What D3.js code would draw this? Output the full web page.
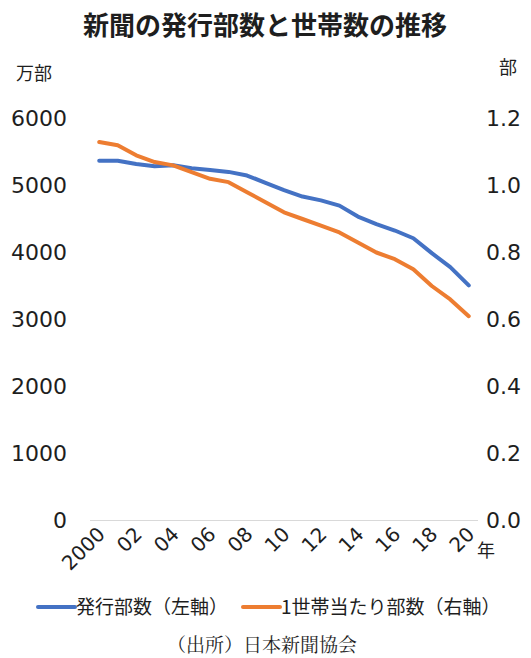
<!DOCTYPE html>
<html lang="ja">
<head>
<meta charset="utf-8">
<script src="https://cdn.jsdelivr.net/npm/d3@7"></script>
<style>
  html, body { margin: 0; padding: 0; background: #fff; }
  svg { display: block; }
  .num { font-family: "DejaVu Sans", "Noto Sans", sans-serif; fill: #1e1e1e; }
  .jp  { font-family: "Noto Sans CJK JP", sans-serif; fill: #1e1e1e; }
</style>
</head>
<body>
<svg id="chart" width="531" height="658"></svg>
<script>
// 年（2000〜2020）
const years = d3.range(2000, 2021);
// x軸ラベル（2年おき）
const yearLabels = ["2000", "02", "04", "06", "08", "10", "12", "14", "16", "18", "20"];
// 発行部数（万部）
const circulation = [5371, 5368, 5320, 5287, 5302, 5257, 5231, 5203, 5149, 5040, 4932,
                     4835, 4778, 4700, 4536, 4425, 4328, 4213, 3990, 3781, 3509];
// 1世帯当たり部数（部）
const perHousehold = [1.13, 1.12, 1.09, 1.07, 1.06, 1.04, 1.02, 1.01, 0.98, 0.95, 0.92,
                      0.90, 0.88, 0.86, 0.83, 0.80, 0.78, 0.75, 0.70, 0.66, 0.61];
const leftTicks = [0, 1000, 2000, 3000, 4000, 5000, 6000];
const rightTicks = [0, 0.2, 0.4, 0.6, 0.8, 1.0, 1.2];

const svg = d3.select("#chart");
const blue = "#4472C4", orange = "#ED7D31";

const x = d3.scalePoint().domain(years).range([90, 478]).padding(0.5);
const yL = d3.scaleLinear().domain([0, 6000]).range([520.5, 118.5]);
const yR = d3.scaleLinear().domain([0, 1.2]).range([520.5, 118.5]);

// タイトル
svg.append("text").attr("class", "jp")
  .attr("x", 265).attr("y", 35).attr("text-anchor", "middle")
  .attr("font-size", 26).attr("font-weight", 700)
  .text("新聞の発行部数と世帯数の推移");

// 軸の単位
svg.append("text").attr("class", "jp").attr("x", 16).attr("y", 80)
  .attr("font-size", 18).text("万部");
svg.append("text").attr("class", "jp").attr("x", 499).attr("y", 74)
  .attr("font-size", 18).text("部");

// 左軸
const axL = svg.append("g").attr("transform", "translate(67,0)")
  .call(d3.axisLeft(yL).tickValues(leftTicks).tickSize(0).tickPadding(0).tickFormat(d3.format("d")));
axL.select(".domain").remove();
axL.selectAll("text").attr("class", "num").attr("font-size", 22).attr("font-family", null).attr("fill", null);

// 右軸
const axR = svg.append("g").attr("transform", "translate(486,0)")
  .call(d3.axisRight(yR).tickValues(rightTicks).tickSize(0).tickPadding(0).tickFormat(d3.format(".1f")));
axR.select(".domain").remove();
axR.selectAll("text").attr("class", "num").attr("font-size", 22).attr("font-family", null).attr("fill", null);

// 基線
svg.append("line")
  .attr("x1", 90).attr("x2", 478).attr("y1", yL(0)).attr("y2", yL(0))
  .attr("stroke", "#d9d9d9").attr("stroke-width", 1.2);

// x軸ラベル
const labelYears = years.filter((d, i) => i % 2 === 0);
svg.append("g").selectAll("text").data(labelYears).join("text")
  .attr("class", "num").attr("font-size", 20).attr("text-anchor", "end")
  .attr("transform", (d, i) => `translate(${x(d) + 7},${yL(0) + 15}) rotate(-45)`)
  .text((d, i) => yearLabels[i]);
svg.append("text").attr("class", "jp").attr("x", 477).attr("y", 557)
  .attr("font-size", 18).text("年");

// 折れ線
const lineL = d3.line().x((d, i) => x(years[i])).y(d => yL(d));
const lineR = d3.line().x((d, i) => x(years[i])).y(d => yR(d));
svg.append("path").datum(circulation).attr("d", lineL)
  .attr("fill", "none").attr("stroke", blue).attr("stroke-width", 4)
  .attr("stroke-linejoin", "round").attr("stroke-linecap", "round");
svg.append("path").datum(perHousehold).attr("d", lineR)
  .attr("fill", "none").attr("stroke", orange).attr("stroke-width", 4)
  .attr("stroke-linejoin", "round").attr("stroke-linecap", "round");

// 凡例
const legend = [
  { label: "発行部数（左軸）", color: blue, x: 38 },
  { label: "1世帯当たり部数（右軸）", color: orange, x: 243 }
];
const lg = svg.append("g").selectAll("g").data(legend).join("g")
  .attr("transform", d => `translate(${d.x},607)`);
lg.append("line").attr("x1", 0).attr("x2", 37).attr("y1", 0).attr("y2", 0)
  .attr("stroke", d => d.color).attr("stroke-width", 4).attr("stroke-linecap", "round");
lg.append("text").attr("class", "jp").attr("x", 38).attr("y", 7)
  .attr("font-size", 19).text(d => d.label);

// 出所
svg.append("text")
  .attr("x", 262).attr("y", 652).attr("text-anchor", "middle")
  .attr("font-size", 19).attr("fill", "#1e1e1e")
  .attr("font-family", "'Noto Serif CJK JP', 'Noto Sans CJK JP', serif")
  .text("（出所）日本新聞協会");
</script>
</body>
</html>
